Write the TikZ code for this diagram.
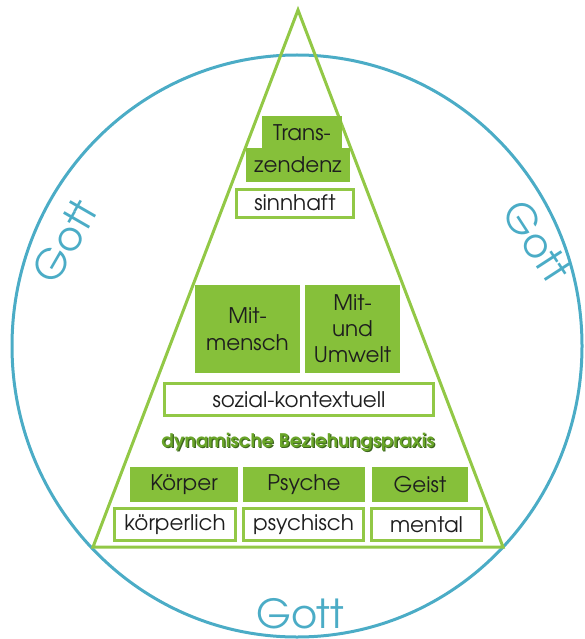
\documentclass[tikz,border=0pt]{standalone}
\usepackage{fontspec}
\setmainfont{TeX Gyre Adventor}
\definecolor{lgreen}{RGB}{146,200,70}
\definecolor{bgreen}{RGB}{134,192,58}
\definecolor{dgreen}{RGB}{105,165,40}
\definecolor{sgreen}{RGB}{60,100,30}
\definecolor{gblue}{RGB}{75,172,198}
\definecolor{txt}{RGB}{30,30,30}
\begin{document}
\begin{tikzpicture}[x=1pt,y=-1pt,
  gbox/.style={fill=bgreen,inner sep=0pt,text=txt,font=\fontsize{21.5}{26}\selectfont,align=center},
  wbox/.style={draw=lgreen,line width=3pt,fill=white,inner sep=0pt,text=txt,font=\fontsize{21.5}{26}\selectfont},
  gott/.style={text=gblue,font=\fontsize{40}{40}\selectfont,inner sep=0pt}]
\useasboundingbox (0,0) rectangle (584,639);
% circle
\draw[gblue,line width=3pt] (297,346) ellipse [x radius=285, y radius=291];
% triangle
\coordinate (apex) at (298,10);
\coordinate (bl) at (93,547);
\coordinate (br) at (503,547);
\draw[lgreen,line width=3pt,line join=miter] (apex) -- (bl) -- (br) -- cycle;
% Transzendenz
\node[gbox,minimum width=80,minimum height=34] (trans) at (302,133) {Trans-};
\node[gbox,minimum width=104,minimum height=34] (zend) at (298,165) {zendenz};
\node[wbox,minimum width=117,minimum height=28] (sinn) at (295,203) {sinnhaft};
% Mitmensch / Umwelt
\node[gbox,minimum width=105,minimum height=88,font=\fontsize{21.5}{27}\selectfont] (mitm) at (247.5,329) {Mit-\\mensch};
\node[gbox,minimum width=95,minimum height=88,font=\fontsize{21.5}{26}\selectfont] (mitu) at (352.5,329) {Mit-\\und\\Umwelt};
\node[wbox,minimum width=269,minimum height=32] (sozial) at (299,399.5) {sozial-kontextuell};
% dynamic
\node[text=sgreen,font=\bfseries\fontsize{18.7}{22}\selectfont,inner sep=0pt] (dyns) at (299.2,443.2) {dynamische Beziehungspraxis};
\node[text=dgreen,font=\bfseries\fontsize{18.7}{22}\selectfont,inner sep=0pt] (dyn) at (298,442) {dynamische Beziehungspraxis};
% bottom row
\node[gbox,minimum width=108,minimum height=35] (koerper) at (184,484.5) {Körper};
\node[gbox,minimum width=122,minimum height=35] (psyche) at (304,484.5) {Psyche};
\node[gbox,minimum width=96,minimum height=35] (geist) at (420,484.5) {Geist};
\node[wbox,minimum width=121,minimum height=32] (kl) at (175,524.5) {körperlich};
\node[wbox,minimum width=120,minimum height=32] (ps) at (303.5,524.5) {psychisch};
\node[wbox,minimum width=110,minimum height=32] (me) at (426.5,524.5) {mental};
% Gott
\node[gott,rotate=60] (gl) at (65,241) {Gott};
\node[gott,rotate=-57] (gr) at (537,241) {Gott};
\node[gott] (gb) at (300,614) {Gott};
\end{tikzpicture}
\end{document}
